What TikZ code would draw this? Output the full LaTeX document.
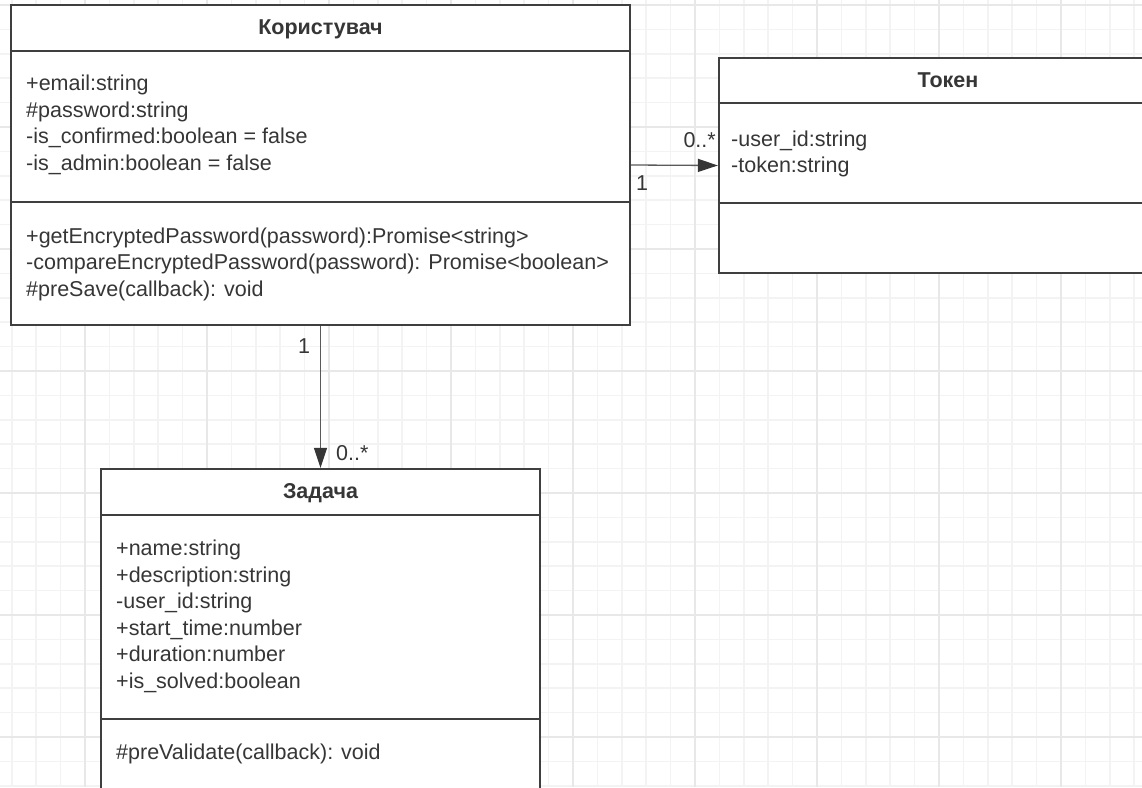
\documentclass[tikz,border=0pt]{standalone}
\usepackage{fontspec}
\setmainfont{Liberation Sans}
\usetikzlibrary{arrows.meta}
\definecolor{gridminor}{HTML}{F3F3F3}
\definecolor{gridmajor}{HTML}{E8E8E8}
\definecolor{border}{HTML}{3F3F3F}
\definecolor{txt}{HTML}{363636}
\definecolor{conn}{HTML}{5A5A5A}
\begin{document}
\begin{tikzpicture}[x=1pt,y=-1pt,
  classbox/.style={draw=border, line width=2.3pt, fill=white, rectangle, inner sep=0pt},
  sepline/.style={draw=border, line width=2.3pt},
  member/.style={anchor=base west, inner sep=0pt, text=txt, font=\fontsize{21.5}{26.7}\selectfont},
  classtitle/.style={anchor=base, inner sep=0pt, text=txt, font=\fontsize{21.5}{26.7}\selectfont\bfseries},
  mult/.style={inner sep=0pt, text=txt, font=\fontsize{21.5}{26.7}\selectfont},
  assoc/.style={draw=conn, line width=1.3pt, -{Triangle[length=20pt,width=13pt,color=txt]}},
  minorline/.style={draw=gridminor, line width=1.5pt},
  majorline/.style={draw=gridmajor, line width=1.5pt}
]
\useasboundingbox (0,0) rectangle (1142,787);
\fill[white] (0,0) rectangle (1142,787);
% grid
\foreach \k in {-3,...,43} \draw[minorline] ({85+24.4*\k},0) -- ({85+24.4*\k},787);
\foreach \k in {0,...,32} \draw[minorline] (0,{5+24.4*\k}) -- (1142,{5+24.4*\k});
\foreach \k in {-1,...,8} \draw[majorline] ({85+122*\k},0) -- ({85+122*\k},787);
\foreach \k in {0,...,6} \draw[majorline] (0,{5+122*\k}) -- (1142,{5+122*\k});

% class boxes
\node[classbox, minimum width=619pt, minimum height=320pt] (user) at (320.5,165) {};
\node[classbox, minimum width=458pt, minimum height=215pt] (token) at (948,165.5) {};
\node[classbox, minimum width=439pt, minimum height=331pt] (task) at (320.5,634.5) {};

% separators
\draw[sepline] (user.west |- 0,51) -- (user.east |- 0,51);
\draw[sepline] (user.west |- 0,202) -- (user.east |- 0,202);
\draw[sepline] (token.west |- 0,103) -- (token.east |- 0,103);
\draw[sepline] (token.west |- 0,203) -- (token.east |- 0,203);
\draw[sepline] (task.west |- 0,515) -- (task.east |- 0,515);
\draw[sepline] (task.west |- 0,719) -- (task.east |- 0,719);

% user
\node[classtitle] (userT) at (320.5,34) {Користувач};
\node[member] (ua1) at (26,90) {+email:string};
\node[member] (ua2) at (26,117) {\#password:string};
\node[member] (ua3) at (26,143) {-is\_confirmed:boolean = false};
\node[member] (ua4) at (26,170) {-is\_admin:boolean = false};
\node[member] (um1) at (26,243) {+getEncryptedPassword(password):Promise<string>};
\node[member] (um2) at (26,269) {-compareEncryptedPassword(password): Promise<boolean>};
\node[member] (um3) at (26,296) {\#preSave(callback): void};

% token
\node[classtitle] (tokenT) at (948,87) {Токен};
\node[member] (ta1) at (731,146) {-user\_id:string};
\node[member] (ta2) at (731,172) {-token:string};

% task
\node[classtitle] (taskT) at (320.5,498) {Задача};
\node[member] (ka1) at (116,555) {+name:string};
\node[member] (ka2) at (116,582) {+description:string};
\node[member] (ka3) at (116,608) {-user\_id:string};
\node[member] (ka4) at (116,635) {+start\_time:number};
\node[member] (ka5) at (116,661) {+duration:number};
\node[member] (ka6) at (116,688) {+is\_solved:boolean};
\node[member] (km1) at (116,759) {\#preValidate(callback): void};

% associations
\draw[assoc] (user.east) -- (token.west);
\draw[assoc] (user.south) -- (task.north);
\node[mult, anchor=base east] (m1) at (716,147) {0..*};
\node[mult, anchor=base west] (m2) at (636,190) {1};
\node[mult, anchor=base] (m3) at (304,353) {1};
\node[mult, anchor=base west] (m4) at (336,460) {0..*};
\end{tikzpicture}
\end{document}
